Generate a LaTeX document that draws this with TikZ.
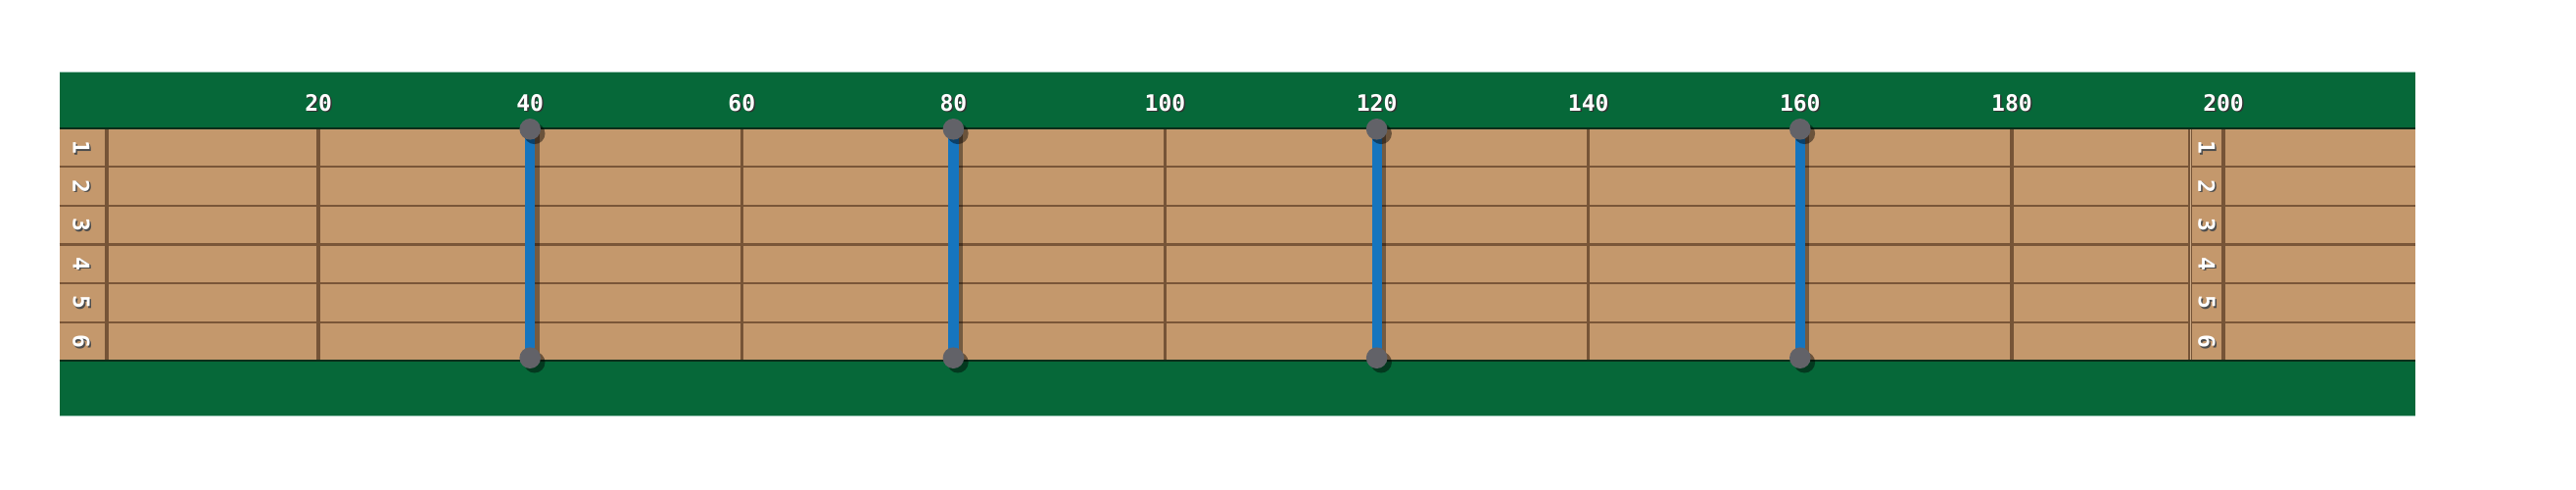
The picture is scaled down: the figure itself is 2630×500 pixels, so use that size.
\documentclass[tikz,border=0pt]{standalone}
\usepackage{fontspec}
\newfontfamily\pixfont{DejaVu Sans Mono}
\definecolor{board}{RGB}{6,104,57}
\definecolor{boardedge}{RGB}{160,200,185}
\definecolor{wood}{RGB}{196,152,108}
\definecolor{woodline}{RGB}{122,86,56}
\definecolor{fretline}{RGB}{118,84,55}
\definecolor{barblue}{RGB}{22,117,190}
\definecolor{peggray}{RGB}{98,98,104}
\definecolor{rimline}{RGB}{10,45,25}
\tikzset{
  ticklabel/.style={text=white,font=\pixfont\bfseries\fontsize{23}{23}\selectfont,inner sep=0pt},
  tickshadow/.style={text=black!80,font=\pixfont\bfseries\fontsize{23}{23}\selectfont,inner sep=0pt},
  rowlabel/.style={text=white,font=\pixfont\bfseries\fontsize{23}{23}\selectfont,inner sep=0pt,rotate=-90},
  rowshadow/.style={text=black!70,font=\pixfont\bfseries\fontsize{23}{23}\selectfont,inner sep=0pt,rotate=-90},
  peg/.style={circle,fill=peggray,minimum size=21.6pt,inner sep=0pt},
  pegshadow/.style={circle,fill=black,fill opacity=0.45,minimum size=21.6pt,inner sep=0pt},
  rowrule/.style={draw=woodline,line width=2.2pt},
  fretrule/.style={draw=fretline,line width=3.5pt},
}
\begin{document}
\begin{tikzpicture}[x=1pt,y=-1pt]
\useasboundingbox (0,0) rectangle (2630,500);
% board
\fill[board] (60.5,73.5) rectangle (2466,424.5);
\draw[boardedge,line width=1pt] (60.5,73.5) -- (2466,73.5);
\draw[boardedge,line width=1pt] (60.5,424.5) -- (2466,424.5);
\fill[wood] (60.5,130.7) rectangle (2466,368.3);
% row rules
\foreach \k in {1,...,5}{
  \draw[rowrule] (60.5,{130.7+39.6*\k}) -- (2466,{130.7+39.6*\k});
}
% fret lines every 20
\foreach \v in {20,40,...,180}{
  \draw[fretrule] ({109+10.805*\v},130.7) -- ({109+10.805*\v},368.3);
}
% label column lines
\draw[fretrule] (109,130.7) -- (109,368.3);
\draw[fretrule] (2236,130.7) -- (2236,368.3);
\draw[draw=wood!80!white,line width=1pt] (2236,130.7) -- (2236,368.3);
\draw[fretrule] (2270,130.7) -- (2270,368.3);
% header edges
\draw[rimline,line width=2.2pt] (60.5,130.7) -- (2466,130.7);
\draw[rimline,line width=2.2pt] (60.5,368.3) -- (2466,368.3);
% tick labels
\foreach \v in {20,40,...,200}{
  \node[tickshadow] at ({109+10.805*\v+1.5},{106.5}) {\v};
  \node[ticklabel] (t\v) at ({109+10.805*\v},{105}) {\v};
}
% row labels
\foreach \k in {1,...,6}{
  \node[rowshadow] at ({84.5},{130.7+39.6*\k-19.8+1.5}) {\k};
  \node[rowlabel] (l\k) at (83,{130.7+39.6*\k-19.8}) {\k};
  \node[rowshadow] at ({2254.5},{130.7+39.6*\k-19.8+1.5}) {\k};
  \node[rowlabel] (r\k) at (2253,{130.7+39.6*\k-19.8}) {\k};
}
% bars
\foreach \v in {40,80,120,160}{
  \pgfmathsetmacro{\xx}{109+10.805*\v}
  \fill[black,opacity=0.4] ({\xx+4},131.8) rectangle ({\xx+9.5},365.2);
  \fill[barblue] ({\xx-5},131.8) rectangle ({\xx+5.2},365.2);
  \node[pegshadow] at ({\xx+4.5},{131.8+4.5}) {};
  \node[pegshadow] at ({\xx+4.5},{365.2+4.5}) {};
  \node[peg] (pt\v) at (\xx,131.8) {};
  \node[peg] (pb\v) at (\xx,365.2) {};
}
\end{tikzpicture}
\end{document}
